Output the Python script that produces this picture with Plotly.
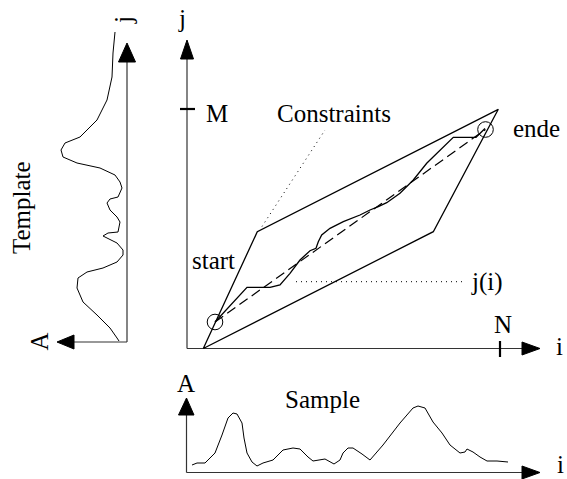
import plotly.graph_objects as go

# ---- data (diagram coordinates, pixel-like units, y grows downward) ----
# Template signal (left panel): amplitude position (x) vs j (y)
template_x = [115, 114, 113, 112, 107, 97, 80, 65, 61, 63, 77, 100, 115, 120, 122, 118, 110, 107,
              110, 117, 120, 118, 108, 103, 107, 117, 123, 123, 117, 103, 87, 78, 77, 83, 97, 110, 117, 119]
template_y = [32, 40, 53, 77, 100, 120, 137, 143, 150, 157, 163, 168, 175, 182, 188, 197, 199, 203,
              210, 217, 222, 232, 233, 236, 238, 243, 250, 255, 262, 268, 272, 278, 288, 302, 315, 328, 338, 341]

# Sample signal (bottom panel)
sample_x = [192, 197, 205, 215, 222, 228, 233, 237, 242, 244, 247, 252, 257, 263, 273, 278, 283, 293, 300,
            308, 313, 325, 330, 334, 340, 343, 348, 353, 362, 370, 383, 400, 413, 418, 425, 433, 442, 450,
            460, 465, 467, 473, 480, 487, 497, 508]
sample_y = [465, 463, 463, 453, 435, 418, 413, 414, 423, 438, 453, 462, 466, 463, 460, 455, 450, 448, 449,
            457, 461, 459, 462, 464, 460, 453, 448, 448, 454, 460, 445, 423, 408, 406, 408, 422, 433, 445,
            453, 452, 449, 452, 457, 461, 461, 462]

# Warping path j(i)
path_x = [215, 247, 270, 280, 290, 300, 310, 316, 318.3, 321.7, 330, 343.3, 360, 370, 378.3, 386.7,
          400, 413.3, 426.7, 440, 453.3, 476, 485]
path_y = [322, 287.3, 287.3, 285, 273.3, 260, 250.7, 248.3, 241.7, 235, 228.3, 221.7, 215, 210, 206.7,
          202.7, 193.3, 180, 163.3, 150, 137.3, 137.3, 128.5]

# Constraint parallelogram
band_x = [203.3, 257.3, 498.3, 433.3, 203.3]
band_y = [348.5, 231.7, 109.3, 231.7, 348.5]

# start / end points
start_pt = (215, 322)
end_pt = (485.5, 129.5)

FONT = "Liberation Serif, Times New Roman, serif"
BLACK = "black"

fig = go.Figure()


def line(xs, ys, width=1.2, dash="solid", color=BLACK):
    fig.add_trace(go.Scatter(x=xs, y=ys, mode="lines",
                             line=dict(color=color, width=width, dash=dash),
                             hoverinfo="skip", showlegend=False))


def tri(xs, ys):
    fig.add_trace(go.Scatter(x=xs + [xs[0]], y=ys + [ys[0]], mode="lines", fill="toself",
                             fillcolor=BLACK, line=dict(color=BLACK, width=1),
                             hoverinfo="skip", showlegend=False))


AX = "#333333"
# --- left panel axes (Template) ---
line([127, 127], [342, 58], color=AX)
tri([127, 118.5, 135.5], [43, 62, 62])
line([127, 72], [342, 342], color=AX)
tri([57, 74, 74], [342, 335, 349])

# --- main axes ---
line([187, 187], [348.5, 56], color=AX)
tri([187, 180.5, 193.5], [40, 59, 59])
line([187, 524], [348.5, 348.5], color=AX)
tri([540, 522, 522], [348.5, 342, 355])
# ticks M and N
line([180, 195], [109, 109], width=2.2)
line([500, 500], [341, 357], width=2.2)

# --- sample axes ---
line([186.5, 186.5], [472.5, 412], color=AX)
tri([186.5, 178.5, 194], [398, 415, 415])
line([186.5, 524], [472.5, 472.5], color=AX)
tri([540, 522, 522], [472.5, 466, 479])

# --- curves ---
line(template_x, template_y, width=1)
line(sample_x, sample_y, width=1)
line(band_x, band_y, width=1.3)
line([start_pt[0], end_pt[0]], [start_pt[1], end_pt[1]], width=1.2, dash="10px,5px")
line(path_x, path_y, width=1.3)
# dotted leader lines
line([262, 325], [226.5, 130], width=1, dash="1px,4px")
line([296, 462], [281.7, 281.7], width=1, dash="1px,4px")

# circles
for (cx, cy) in (start_pt, end_pt):
    fig.add_shape(type="circle", xref="x", yref="y", x0=cx - 7.8, x1=cx + 7.8, y0=cy - 7.8, y1=cy + 7.8,
                  line=dict(color=BLACK, width=1))

labels = [
    ("M", 217, 113.5, 0, "middle"),
    ("Constraints", 334, 113.5, 0, "middle"),
    ("start", 213, 260.5, 0, "middle"),
    ("j(i)", 487, 281.5, 0, "middle"),
    ("ende", 536, 128.5, 0, "middle"),
    ("N", 502.5, 324.5, 0, "middle"),
    ("i", 559, 346.5, 0, "middle"),
    ("j", 182, 18.5, 0, "middle"),
    ("Sample", 322, 399.5, 0, "middle"),
    ("A", 186, 383.5, 0, "middle"),
    ("i", 560, 478.5, 0, "bottom"),
    ("Template", 21, 208, -90, "middle"),
    ("A", 38.5, 342, -90, "middle"),
    ("j", 123, 20, -90, "middle"),
]
for txt, x, y, ang, ya in labels:
    fig.add_annotation(x=x, y=y, text=txt, showarrow=False, textangle=ang,
                       xanchor="center", yanchor=ya, borderpad=0,
                       font=dict(family=FONT, size=25, color=BLACK))

fig.update_layout(
    width=567, height=479,
    margin=dict(l=0, r=0, t=0, b=0),
    paper_bgcolor="white", plot_bgcolor="white",
    xaxis=dict(range=[0, 567], visible=False, fixedrange=True),
    yaxis=dict(range=[479, 0], visible=False, fixedrange=True),
    showlegend=False,
)

fig.write_html("out.html", config={"displayModeBar": False},
               post_script="document.body.style.margin='0';document.body.style.overflow='hidden';")
